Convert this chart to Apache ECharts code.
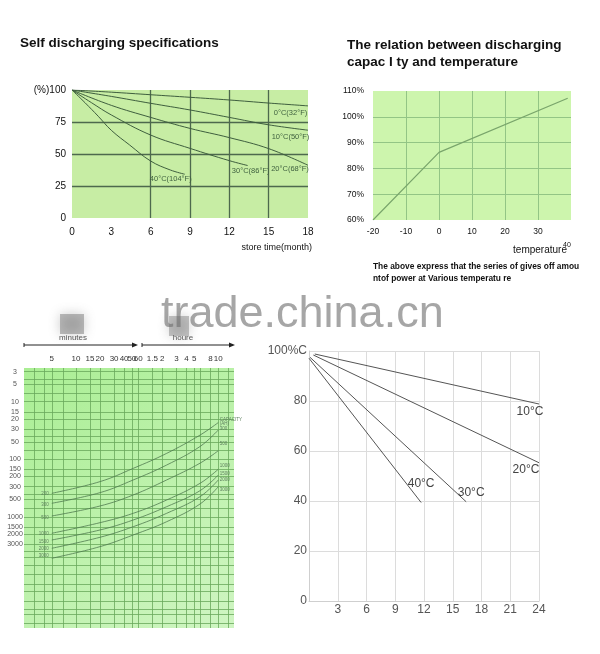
<!DOCTYPE html>
<html><head><meta charset="utf-8">
<script src="https://cdn.jsdelivr.net/npm/echarts@6/dist/echarts.min.js"></script>
<style>html,body{margin:0;padding:0;background:#fff}#c{width:600px;height:654px}</style>
</head><body><div id="c"></div>
<script>
// ---------- Chart 1: Self discharging (month, %) ----------
const sdMonths = [0, 3, 6, 9, 12, 15, 18];
const sd0C = [100, 98.3, 96.3, 94.3, 92.2, 89.8, 87.6];
const sd10C = [100, 95, 89.6, 84.4, 78.6, 72.8, 68.6];
const sd20C = [100, 88, 78.6, 70, 62.8, 54.2, 41.2];
const sd30Months = [0, 1.5, 3, 6, 9, 12, 13.4];
const sd30C = [100, 90, 80.5, 64.8, 54.4, 44.8, 41];
const sd40Months = [0, 1, 2, 3, 4.4, 6, 7.5, 8.6];
const sd40C = [100, 90, 79.5, 68.5, 57, 44.5, 37.5, 34.2];
const sdNames = ['0°C(32°F)', '10°C(50°F)', '20°C(68°F)', '30°C(86°F)', '40°C(104°F)'];
const sdXTicks = [0, 3, 6, 9, 12, 15, 18];
const sdXGrid = [6, 9, 12, 15];
const sdYGrid = [25, 50, 75];

// ---------- Chart 2: capacity vs temperature ----------
const tempX = [-20, 0, 39];
const tempCap = [60, 86.2, 107.2];
const tempXGrid = [-10, 0, 10, 20, 30];
const tempYGrid = [70, 80, 90, 100];

// ---------- Chart 3: discharge time (minutes) vs current ----------
const dtMinutes = [5, 20, 52, 136, 355, 600];
const dtNames = ['200', '300', '500', '1000', '1500', '2000', '3000'];
const dt200 = [391, 245, 144, 79, 38, 23];
const dt300 = [583, 381, 229, 126, 60, 31];
const dt500 = [970, 650, 418, 229, 117, 71];
const dt1000 = [1937, 1268, 871, 511, 262, 149];
const dt1500 = [2535, 1698, 1138, 668, 352, 188];
const dt2000 = [3532, 2275, 1489, 871, 448, 229];
const dt3000 = [5272, 3311, 2075, 1219, 600, 300];
const dtRightNames = ['CAPACITY\n(AH)', '300', '500', '1000', '1500', '2000', '3000'];
const dtTimeTicks = [5, 10, 15, 20, 30, 40, 50, 60, 90, 120, 180, 240, 300, 480, 600];
const dtCurrentTicks = [3, 5, 10, 15, 20, 30, 50, 100, 150, 200, 300, 500, 1000, 1500, 2000, 3000];
const dtXGrid = [3, 4, 5, 7, 10, 15, 20, 30, 40, 50, 60, 90, 120, 180, 240, 300, 360, 480, 600, 800];
const dtYGrid = [3, 4, 5, 7, 10, 15, 20, 30, 40, 50, 70, 100, 150, 200, 300, 400, 500, 700, 1000, 1500, 2000,
  3000, 4000, 5000, 7000, 10000, 15000, 20000, 30000, 40000, 50000, 70000];

// ---------- Chart 4: capacity retention (month, %) ----------
const scNames = ['10°C', '20°C', '30°C', '40°C'];
const sc10Months = [0.6, 24];
const sc10C = [98.8, 78.8];
const sc20Months = [0.45, 24];
const sc20C = [98.4, 55.3];
const sc30Months = [0.1, 16.4];
const sc30C = [97.5, 39.7];
const sc40Months = [0, 11.7];
const sc40C = [97.1, 39.4];
const scXLabels = [3, 6, 9, 12, 15, 18, 21, 24];

// ---------------------------------------------------------
const FONT = '"Liberation Sans", Arial, sans-serif';
const L = Math.log10;

function lineData(xs, ys, lastLabel, firstLabel) {
  return xs.map((x, i) => {
    const item = { value: [x, ys[i]] };
    if (i === xs.length - 1 && lastLabel) item.label = lastLabel;
    if (i === 0 && firstLabel) item.label = firstLabel;
    return item;
  });
}
function lbl(text, offset, size, color, extra) {
  return Object.assign({ show: true, position: 'inside', offset: offset, formatter: text,
    fontSize: size, color: color, fontFamily: FONT }, extra || {});
}
const baseLine = { type: 'line', symbol: 'circle', symbolSize: 0, showSymbol: true, silent: true,
  label: { show: false }, emphasis: { disabled: true } };

const series = [];
// chart 1
const sdSets = [[sdMonths, sd0C], [sdMonths, sd10C], [sdMonths, sd20C], [sd30Months, sd30C], [sd40Months, sd40C]];
const sdOffsets = [[-17.5, 7.5], [-17.5, 6.5], [-18, 4], [3, 5.5], [-14, 5]];
sdSets.forEach((s, i) => {
  series.push(Object.assign({}, baseLine, {
    name: sdNames[i], xAxisIndex: 0, yAxisIndex: 0, smooth: 0.4,
    lineStyle: { color: '#3e5e3e', width: 1 },
    data: lineData(s[0], s[1], lbl(sdNames[i], sdOffsets[i], 7.5, '#3f613f'))
  }));
});
// chart 2
series.push(Object.assign({}, baseLine, {
  name: 'capacity', xAxisIndex: 1, yAxisIndex: 1,
  lineStyle: { color: '#79a56b', width: 1.2 },
  data: lineData(tempX, tempCap)
}));
// chart 3
const dtSets = [dt200, dt300, dt500, dt1000, dt1500, dt2000, dt3000];
const dtLeftDy = [0, 1.5, 1.5, 1, 1.5, 0, -2.5];
const dtRightDy = [-1, -1, -7, -3, -1, 0, 3];
dtSets.forEach((vals, i) => {
  const xs = dtMinutes.map(L);
  const ys = vals.map(L);
  series.push(Object.assign({}, baseLine, {
    name: dtNames[i], xAxisIndex: 2, yAxisIndex: 2, smooth: 0.4,
    lineStyle: { color: '#4f7a4f', width: 0.8 },
    data: lineData(xs, ys,
      lbl(dtRightNames[i], [0, dtRightDy[i]], 4.5, '#5d7f5d', { position: 'right', distance: 1.5, lineHeight: 4.5 }),
      lbl(dtNames[i], [0, dtLeftDy[i]], 4.5, '#5d7f5d', { position: 'left', distance: 3 }))
  }));
});
// chart 4
const scSets = [[sc10Months, sc10C], [sc20Months, sc20C], [sc30Months, sc30C], [sc40Months, sc40C]];
const scOffsets = [[-9, 8], [-13, 6.5], [5, -9.5], [0, -19]];
scSets.forEach((s, i) => {
  series.push(Object.assign({}, baseLine, {
    name: scNames[i], xAxisIndex: 3, yAxisIndex: 3,
    lineStyle: { color: '#555', width: 1 },
    data: lineData(s[0], s[1], lbl(scNames[i], scOffsets[i], 12, '#444'))
  }));
});

const noLine = { show: false };
const option = {
  animation: false,
  backgroundColor: '#fff',
  textStyle: { fontFamily: FONT },
  grid: [
    { left: 72, top: 90, width: 236, height: 128, show: true, backgroundColor: '#c7eda4', borderWidth: 0, outerBoundsMode: 'none', containLabel: false },
    { left: 373, top: 91, width: 198, height: 129, show: true, backgroundColor: '#cdf5ad', borderWidth: 0, outerBoundsMode: 'none', containLabel: false },
    { left: 24, top: 368, width: 210, height: 260, show: true, borderWidth: 0, outerBoundsMode: 'none', containLabel: false,
      backgroundColor: new echarts.graphic.LinearGradient(0, 0, 1, 1, [
        { offset: 0, color: '#aaee94' }, { offset: 1, color: '#cff5c2' }]) },
    { left: 309, top: 351, width: 230, height: 250, show: false, outerBoundsMode: 'none', containLabel: false }
  ],
  xAxis: [
    { gridIndex: 0, type: 'value', min: 0, max: 18, interval: 3,
      axisLine: noLine, axisTick: { show: false, customValues: sdXGrid },
      splitLine: { show: true, lineStyle: { color: '#4d694d', width: 1.3 } },
      axisLabel: { customValues: sdXTicks, fontSize: 10, color: '#111', margin: 9 },
      name: 'store time(month)', nameLocation: 'end', nameGap: 4,
      nameTextStyle: { fontSize: 9, color: '#111', align: 'right', verticalAlign: 'top', padding: [25, 0, 0, 0] } },
    { gridIndex: 1, type: 'value', min: -20, max: 40, interval: 10,
      axisLine: noLine, axisTick: { show: false, customValues: tempXGrid },
      splitLine: { show: true, lineStyle: { color: '#93c585', width: 1 } },
      axisLabel: { fontSize: 8.5, color: '#111', margin: 7,
        formatter: v => v === 40 ? '{s|40}' : String(v),
        rich: { s: { fontSize: 7, color: '#111', padding: [15, 8, 0, 0] } } } },
    { gridIndex: 2, type: 'value', position: 'top', min: L(2.25), max: L(942),
      axisLine: noLine, axisTick: { show: false, customValues: dtXGrid.map(L) },
      splitLine: { show: true, lineStyle: { color: '#6aa85c', width: 0.8 } },
      axisLabel: { customValues: dtTimeTicks.map(L), fontSize: 8, color: '#333', margin: 5,
        formatter: v => { const m = Math.round(Math.pow(10, v)); return m <= 60 ? String(m) : String(m / 60); } } },
    { gridIndex: 3, type: 'value', min: 0, max: 24, interval: 3,
      axisLine: { show: true, lineStyle: { color: '#cfcfcf' } }, axisTick: { show: false },
      splitLine: { show: true, lineStyle: { color: '#dcdcdc', width: 1 } },
      axisLabel: { customValues: scXLabels, fontSize: 12, color: '#555', margin: 3 } }
  ],
  yAxis: [
    { gridIndex: 0, type: 'value', min: 0, max: 100, interval: 25,
      axisLine: noLine, axisTick: { show: false, customValues: sdYGrid },
      splitLine: { show: true, lineStyle: { color: '#4d694d', width: 1.3 } },
      axisLabel: { fontSize: 10, color: '#111', margin: 6, formatter: v => v === 100 ? '(%)100' : String(v) } },
    { gridIndex: 1, type: 'value', min: 60, max: 110, interval: 10,
      axisLine: noLine, axisTick: { show: false, customValues: tempYGrid },
      splitLine: { show: true, lineStyle: { color: '#93c585', width: 1 } },
      axisLabel: { fontSize: 8.5, color: '#111', margin: 9, formatter: v => v + '%' } },
    { gridIndex: 2, type: 'value', inverse: true, min: L(2.59), max: L(86000),
      axisLine: noLine, axisTick: { show: false, customValues: dtYGrid.map(L) },
      splitLine: { show: true, lineStyle: { color: '#6aa85c', width: 0.8 } },
      axisLabel: { customValues: dtCurrentTicks.map(L), fontSize: 7, color: '#555', margin: 9, align: 'center',
        formatter: v => String(Math.round(Math.pow(10, v))) } },
    { gridIndex: 3, type: 'value', min: 0, max: 100, interval: 20,
      axisLine: { show: true, lineStyle: { color: '#cfcfcf' } }, axisTick: { show: false },
      splitLine: { show: true, lineStyle: { color: '#dcdcdc', width: 1 } },
      axisLabel: { fontSize: 12, color: '#555', margin: 2, formatter: v => v === 100 ? '100%C' : String(v) } }
  ],
  graphic: [
    { type: 'text', left: 20, top: 36, style: { text: 'Self discharging specifications', fill: '#111', font: 'bold 13.5px ' + FONT } },
    { type: 'text', left: 347, top: 37, style: { text: 'The relation between discharging\ncapac I ty and temperature', fill: '#111', lineHeight: 17, font: 'bold 13.5px ' + FONT } },
    { type: 'text', x: 540, y: 250, style: { text: 'temperature', fill: '#111', align: 'center', verticalAlign: 'middle', font: '10px ' + FONT } },
    { type: 'text', left: 373, top: 261, style: { text: 'The above express that the series of gives off amou\nntof power at Various temperatu re', fill: '#111', lineHeight: 12, font: 'bold 8.4px ' + FONT } },
    { type: 'text', x: 161, y: 315, style: { text: 'trade.china.cn', fill: '#a6a6a6', verticalAlign: 'middle', font: '45px ' + FONT } },
    { type: 'rect', shape: { x: 60, y: 314, width: 24, height: 20 }, style: { fill: 'rgba(110,110,110,0.45)', shadowBlur: 12, shadowColor: 'rgba(110,110,110,0.8)' } },
    { type: 'rect', shape: { x: 169, y: 316, width: 20, height: 20 }, style: { fill: 'rgba(110,110,110,0.4)', shadowBlur: 12, shadowColor: 'rgba(110,110,110,0.8)' } },
    { type: 'line', shape: { x1: 24, y1: 345, x2: 136, y2: 345 }, style: { stroke: '#222', lineWidth: 1 } },
    { type: 'polygon', shape: { points: [[138, 345], [132, 342.5], [132, 347.5]] }, style: { fill: '#222' } },
    { type: 'line', shape: { x1: 24, y1: 343, x2: 24, y2: 347 }, style: { stroke: '#222', lineWidth: 1 } },
    { type: 'line', shape: { x1: 142, y1: 345, x2: 233, y2: 345 }, style: { stroke: '#222', lineWidth: 1 } },
    { type: 'polygon', shape: { points: [[235, 345], [229, 342.5], [229, 347.5]] }, style: { fill: '#222' } },
    { type: 'line', shape: { x1: 142, y1: 343, x2: 142, y2: 347 }, style: { stroke: '#222', lineWidth: 1 } },
    { type: 'text', x: 73, y: 338, style: { text: 'minutes', fill: '#555', align: 'center', verticalAlign: 'middle', font: '8px ' + FONT } },
    { type: 'text', x: 183, y: 338, style: { text: 'houre', fill: '#555', align: 'center', verticalAlign: 'middle', font: '8px ' + FONT } }
  ],
  series: series
};
const chart = echarts.init(document.getElementById('c'));
chart.setOption(option);
</script>
</body></html>
